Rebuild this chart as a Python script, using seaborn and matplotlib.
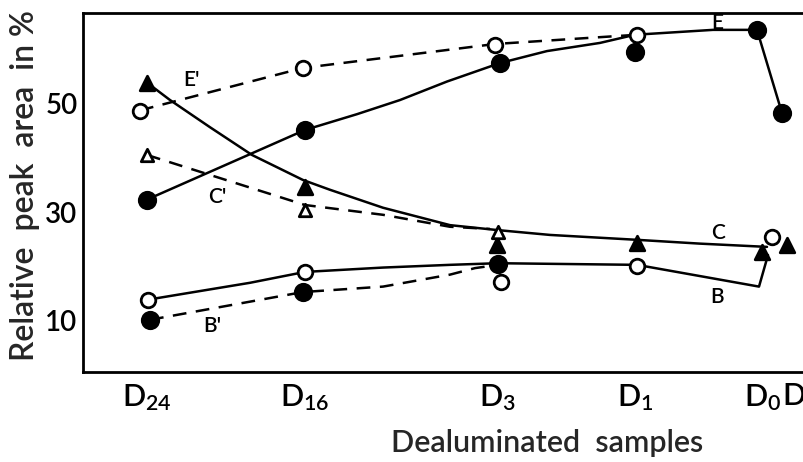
import matplotlib
matplotlib.use("Agg")
import matplotlib.pyplot as plt
import seaborn as sns
import pandas as pd

sns.set_theme(style="white")
plt.rcParams['font.family'] = ['Lato', 'DejaVu Sans']
plt.rcParams['font.weight'] = 'semibold'
plt.rcParams['mathtext.fontset'] = 'custom'
plt.rcParams['mathtext.rm'] = 'Lato:semibold'
plt.rcParams['mathtext.default'] = 'regular'

# ---- sample axis ----
sample_labels = [r'D$_{24}$', r'D$_{16}$', r'D$_3$', r'D$_1$', r'D$_0$', 'D']
sample_pos = [0, 158, 350, 488, 616, 635]
y_ticks = [10, 30, 50]

E_x = [0, 158, 353, 488, 610, 635]
E_y = [32.2, 45.1, 57.4, 59.4, 63.5, 48.2]
Ep_x = [-7, 156, 348, 490]
Ep_y = [48.5, 56.5, 60.7, 62.6]
C_x = [0, 158, 350, 490, 615, 640]
C_y = [53.7, 34.6, 24.0, 24.3, 22.7, 24.0]
Cp_x = [0, 158, 351]
Cp_y = [40.5, 30.4, 26.4]
B_x = [1, 158, 354, 490, 625]
B_y = [13.9, 19.0, 17.2, 20.1, 25.4]
Bp_x = [3, 156, 351]
Bp_y = [10.2, 15.3, 20.5]

# ---- drawn curves ----
E_curve_x = [0, 158, 210, 253, 300, 353, 400, 453, 488, 566, 610, 635]
E_curve_y = [32.3, 45.1, 48.0, 50.6, 54.0, 57.4, 59.6, 61.1, 62.6, 63.5, 63.5, 48.2]
Ep_curve_x = [-7, 156, 348, 490]
Ep_curve_y = [48.7, 56.5, 60.9, 62.6]
C_curve_x = [0, 23, 63, 105, 156, 183, 236, 303, 350, 403, 490, 553, 620]
C_curve_y = [53.8, 50.6, 45.6, 40.5, 35.9, 34.1, 30.8, 27.6, 26.7, 25.8, 24.9, 24.2, 23.6]
Cp_curve_x = [0, 158, 236, 303, 343]
Cp_curve_y = [40.5, 31.3, 29.5, 27.3, 26.9]
B_curve_x = [1, 103, 158, 236, 303, 351, 490, 612, 621]
B_curve_y = [13.9, 17.0, 19.0, 19.8, 20.3, 20.6, 20.3, 16.3, 22.1]
Bp_curve_x = [3, 156, 236, 303, 328, 351]
Bp_curve_y = [10.2, 15.3, 16.3, 18.5, 19.7, 20.3]

curve_labels = ['E', "E'", 'C', "C'", 'B', "B'"]
curve_label_x = [570, 45, 571, 70, 570, 65]
curve_label_y = [64.8, 54.3, 26.2, 32.8, 14.4, 9.0]

fig = plt.figure(figsize=(8.04, 4.62), dpi=100)
ax = fig.add_axes([83/804, 1-372/462, 1-83/804, (372-13)/462])

def curve(xs, ys, dashed):
    df = pd.DataFrame({'x': xs, 'y': ys})
    kw = dict(color='black', lw=1.8)
    if dashed:
        kw.update(linestyle=(0, (5.5, 3.8)))
    sns.lineplot(data=df, x='x', y='y', sort=False, estimator=None, ax=ax, **kw)

curve(E_curve_x, E_curve_y, False)
curve(Ep_curve_x, Ep_curve_y, True)
curve(C_curve_x, C_curve_y, False)
curve(Cp_curve_x, Cp_curve_y, True)
curve(B_curve_x, B_curve_y, False)
curve(Bp_curve_x, Bp_curve_y, True)

def pts(xs, ys, marker, filled, size):
    df = pd.DataFrame({'x': xs, 'y': ys})
    sns.scatterplot(data=df, x='x', y='y', ax=ax, marker=marker, s=size,
                    color='black' if filled else 'white', edgecolor='black',
                    linewidth=2.0, zorder=5)

pts(E_x, E_y, 'o', True, 140)
pts(Ep_x, Ep_y, 'o', False, 110)
pts(C_x, C_y, '^', True, 110)
pts(Cp_x, Cp_y, '^', False, 80)
pts(B_x, B_y, 'o', False, 110)
pts(Bp_x, Bp_y, 'o', True, 140)

for t, x, y in zip(curve_labels, curve_label_x, curve_label_y):
    ax.text(x, y, t, fontsize=15, ha='center', va='center', color='black',
            fontweight='semibold')

ax.set_xlim(-64, 657)
ax.set_ylim(0.6, 66.6)
ax.set_xticks(sample_pos)
ax.set_xticklabels(sample_labels, fontsize=22, fontweight='semibold')
ax.set_yticks(y_ticks)
ax.set_yticklabels([str(v) for v in y_ticks], fontsize=20, fontweight='semibold')
ax.tick_params(axis='both', direction='in', length=6, width=1.5, colors='black')
ax.tick_params(axis='x', pad=7)
ax.tick_params(axis='y', pad=4)
tl = ax.get_xticklabels()
tl[-1].set_horizontalalignment('left')
tl[-1].set_x(634)

for side in ['left', 'bottom', 'top']:
    ax.spines[side].set_visible(True)
    ax.spines[side].set_color('black')
    ax.spines[side].set_linewidth(2)
ax.spines['right'].set_visible(False)

ax.set_xlabel('Dealuminated  samples', fontsize=22, fontweight='semibold')
ax.xaxis.set_label_coords(0.6436, -0.16)
ax.set_ylabel('Relative  peak  area  in %', fontsize=23, fontweight='semibold')
ax.yaxis.set_label_coords(-0.06, 0.52)

fig.savefig('out.png', dpi=100)
